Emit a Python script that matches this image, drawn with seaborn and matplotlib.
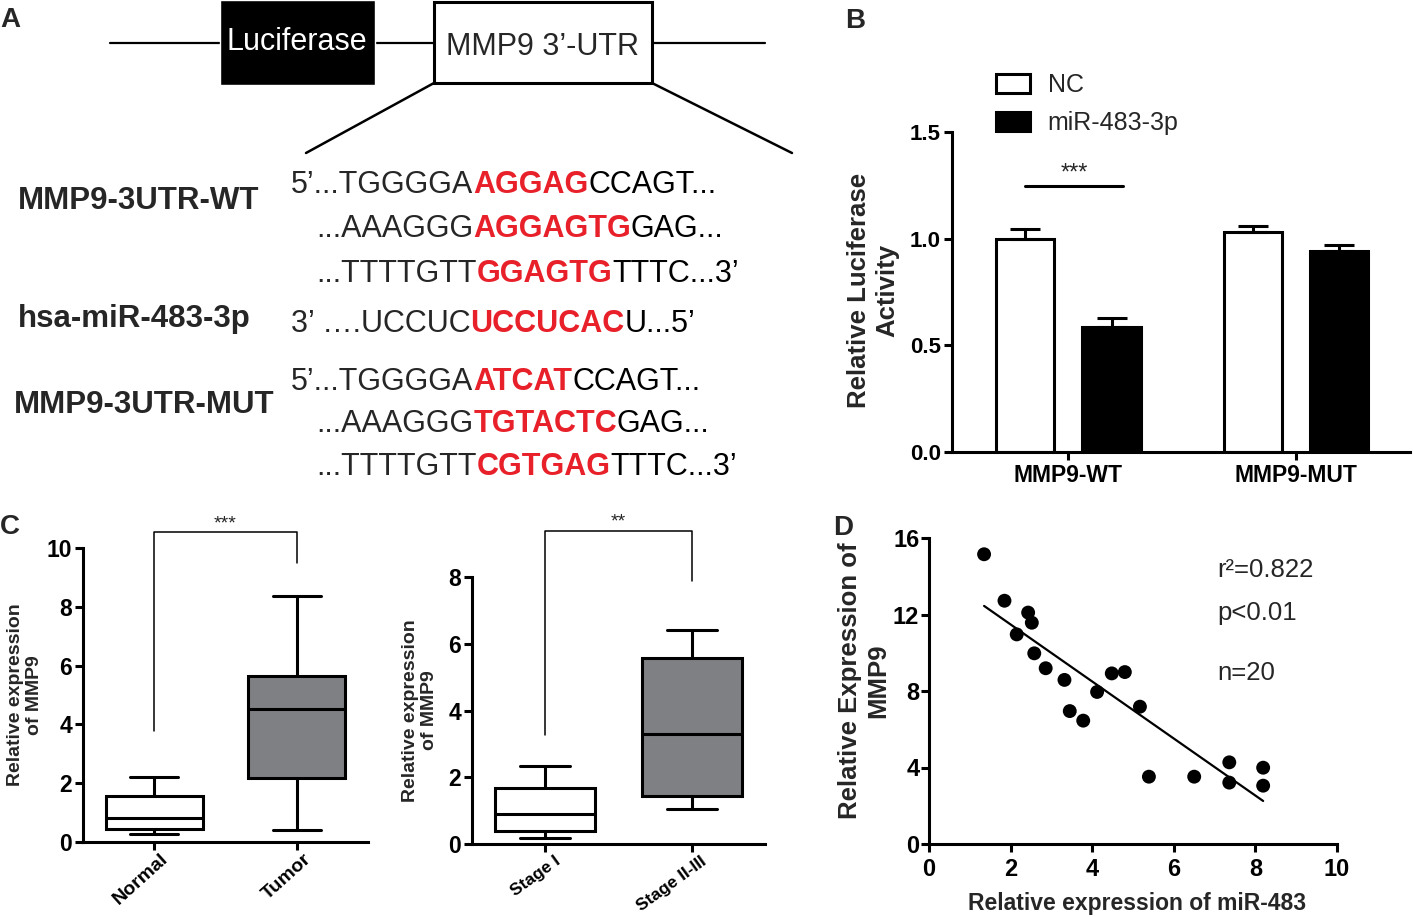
import numpy as np
import pandas as pd
import matplotlib
matplotlib.use('Agg')
import matplotlib.pyplot as plt
import matplotlib.transforms as mtrans
from matplotlib.patches import Rectangle, Patch
import seaborn as sns

# panel A: reporter sequences, each row = black / red seed / black
seq_names = ['MMP9-3UTR-WT', 'hsa-miR-483-3p', 'MMP9-3UTR-MUT']
seq_wt = [['5’...TGGGGA', 'AGGAG', 'CCAGT...'],
          ['...AAAGGG', 'AGGAGTG', 'GAG...'],
          ['...TTTTGTT', 'GGAGTG', 'TTTC...3’']]
seq_mir = [['3’ ….UCCUC', 'UCCUCAC', 'U...5’']]
seq_mut = [['5’...TGGGGA', 'ATCAT', 'CCAGT...'],
           ['...AAAGGG', 'TGTACTC', 'GAG...'],
           ['...TTTTGTT', 'CGTGAG', 'TTTC...3’']]

# panel B: luciferase activity
b_groups = ['MMP9-WT', 'MMP9-MUT']
b_treat = ['NC', 'miR-483-3p']
b_nc = [1.00, 1.03]
b_nc_sem = [0.045, 0.028]
b_mir = [0.586, 0.942]
b_mir_sem = [0.042, 0.028]
b_sig = 1.247

# panel C: box summaries (min, q1, median, q3, max)
c1_groups = ['Normal', 'Tumor']
c1_normal = [0.27, 0.43, 0.81, 1.56, 2.22]
c1_tumor = [0.41, 2.19, 4.51, 5.66, 8.38]
c1_bracket = [3.79, 10.53, 9.48]
c2_groups = ['Stage I', 'Stage II-III']
c2_stage1 = [0.17, 0.39, 0.89, 1.67, 2.35]
c2_stage23 = [1.05, 1.45, 3.31, 5.56, 6.41]
c2_bracket = [3.26, 9.38, 7.88]

# panel D: correlation
d_mir = [1.35, 1.85, 2.43, 2.52, 2.15, 2.58, 2.86, 3.32, 3.45, 3.78,
         4.12, 4.48, 4.80, 5.17, 5.39, 6.50, 7.36, 7.36, 8.19, 8.19]
d_mmp9 = [15.15, 12.72, 12.10, 11.57, 10.96, 9.97, 9.19, 8.58, 6.95, 6.45,
          7.95, 8.92, 8.99, 7.18, 3.52, 3.52, 4.27, 3.21, 3.99, 3.05]
d_stats = ['r²=0.822', 'p<0.01', 'n=20']

RED = '#e8202a'
LW = 2.2

sns.set_style('ticks')
plt.rcParams['font.family'] = ['Liberation Sans', 'DejaVu Sans']
plt.rcParams['font.weight'] = 'bold'
plt.rcParams['axes.labelweight'] = 'bold'

W, H = 1413, 917
fig = plt.figure(figsize=(W / 100, H / 100), dpi=100)


def add_ax(x0, y0, x1, y1):
    # pixel box (left, top, right, bottom) -> figure fraction
    return fig.add_axes([x0 / W, 1 - y1 / H, (x1 - x0) / W, (y1 - y0) / H])


def style(ax, size):
    sns.despine(ax=ax)
    for s in ['left', 'bottom']:
        ax.spines[s].set_linewidth(LW)
        ax.spines[s].set_color('black')
    ax.tick_params(width=LW, length=6, pad=2, labelsize=size, colors='black')
    ax.set_facecolor('none')


# ---------- overlay for panel A and letters
ax0 = fig.add_axes([0, 0, 1, 1])
ax0.set_xlim(0, W)
ax0.set_ylim(H, 0)
ax0.axis('off')

ax0.plot([110, 765], [43, 43], color='black', lw=1.6)
ax0.add_patch(Rectangle((220, 0), 155, 85, facecolor='black', zorder=2))
ax0.add_patch(Rectangle((434, 2), 218, 81, facecolor='white', edgecolor='black', lw=LW, zorder=2))
ax0.plot([434, 306], [83, 153], color='black', lw=1.8)
ax0.plot([652, 792], [83, 153], color='black', lw=1.8)
ax0.text(297, 50, 'Luciferase', color='white', ha='center', va='baseline',
         fontsize=22, fontweight='normal', zorder=3)
ax0.text(543, 55, 'MMP9 3’-UTR', ha='center', va='baseline',
         fontsize=22, fontweight='normal', zorder=3)


def seq_line(x, y, parts):
    t = ax0.text(x, y, parts[0], fontsize=22, fontweight='normal', va='baseline')
    for k, seg in enumerate(parts[1:]):
        red = k == 0
        t = ax0.annotate(seg, xy=(1, 0), xycoords=t, va='bottom', ha='left', fontsize=22,
                         fontweight='bold' if red else 'normal',
                         color=RED if red else 'black')


for (x, y), parts in zip([(291, 193), (316, 237), (316, 282)], seq_wt):
    seq_line(x, y, parts)
seq_line(291, 332, seq_mir[0])
for (x, y), parts in zip([(291, 390), (316, 432), (316, 475)], seq_mut):
    seq_line(x, y, parts)
for (x, y), name in zip([(18, 209), (18, 327), (14, 413)], seq_names):
    ax0.text(x, y, name, fontsize=22.5, va='baseline')

for (x, y), letter in zip([(0, 27), (845, 28), (0, 534), (833, 535)], 'ABCD'):
    ax0.text(x, y, letter, fontsize=20, va='baseline')

# ---------- panel B
df_b = pd.DataFrame({'group': b_groups * 2,
                     'treat': [b_treat[0]] * 2 + [b_treat[1]] * 2,
                     'value': b_nc + b_mir})
axB = add_ax(952, 132, 1410, 452)
sns.barplot(data=df_b, x='group', y='value', hue='treat', palette=['white', 'black'],
            saturation=1, edgecolor='black', linewidth=LW, width=0.76, gap=0.33,
            errorbar=None, legend=False, ax=axB)
for cont, sems in zip(axB.containers, [b_nc_sem, b_mir_sem]):
    for bar, e in zip(cont, sems):
        axB.errorbar(bar.get_x() + bar.get_width() / 2, bar.get_height(),
                     yerr=[[0], [e]], fmt='none', ecolor='black', elinewidth=LW,
                     capsize=11, capthick=LW, zorder=3)
axB.set_xlim(-0.51, 1.5)
axB.set_ylim(0, 1.5)
axB.set_yticks([0, 0.5, 1.0, 1.5])
axB.set_yticklabels(['0.0', '0.5', '1.0', '1.5'])
axB.set_xlabel('')
axB.set_ylabel('Relative Luciferase\nActivity', fontsize=18.5, va='center')
axB.yaxis.set_label_coords(-0.1725, 0.506)
style(axB, 16)
axB.tick_params(axis='x', labelsize=16.5, pad=3)
axB.plot([-0.19, 0.24], [b_sig, b_sig], color='black', lw=LW, clip_on=False)
axB.text(0.025, b_sig + 0.005, '***', ha='center', va='bottom', fontsize=17, fontweight='normal')
handles = [Patch(facecolor=c, edgecolor='black', linewidth=LW) for c in ['white', 'black']]
axB.legend(handles, b_treat, loc='upper left', bbox_to_anchor=(996 / W, 1 - 73 / H),
           bbox_transform=fig.transFigure, frameon=False,
           prop={'size': 18, 'weight': 'normal'}, handlelength=1.36, handleheight=0.8,
           handletextpad=0.7, labelspacing=0.56, borderpad=0, borderaxespad=0)


# ---------- panel C
def box_panel(rect, groups, stats, ymax, bracket, stars, label_x, rot, size, shift):
    ax = add_ax(*rect)
    df = pd.DataFrame({'group': np.repeat(groups, 5), 'value': np.concatenate(stats)})
    sns.boxplot(data=df, x='group', y='value', hue='group', palette=['white', '#7f8084'],
                saturation=1, whis=(0, 100), width=0.68, linewidth=LW, linecolor='black',
                showfliers=False, legend=False, ax=ax)
    ax.set_xlim(-0.5, 1.5)
    ax.set_ylim(0, ymax)
    ax.set_yticks(np.arange(0, ymax + 1, 2))
    ax.set_xticks([0, 1])
    ax.set_xticklabels(groups, rotation=rot, ha='right', va='top', rotation_mode='anchor')
    ax.set_xlabel('')
    ax.set_ylabel('Relative expression\nof MMP9', fontsize=14, va='center')
    ax.yaxis.set_label_coords(label_x, 0.5)
    style(ax, 16.5)
    ax.tick_params(axis='x', labelsize=size, pad=0, length=6)
    # nudge the rotated labels to the right of the tick marks
    off = mtrans.ScaledTranslation(shift[0] / 100, shift[1] / 100, fig.dpi_scale_trans)
    for lab in ax.get_xticklabels():
        lab.set_transform(lab.get_transform() + off)
    ax.spines['left'].set_bounds(0, ymax)
    ax.plot([0, 0, 1, 1], [bracket[0], bracket[1], bracket[1], bracket[2]],
            color='black', lw=1.1, clip_on=False)
    ax.text(0.5, bracket[1], stars, ha='center', va='bottom', fontsize=14, fontweight='normal')
    return ax


box_panel((83, 548, 368, 842), c1_groups, [c1_normal, c1_tumor], 10, c1_bracket, '***',
          -0.2035, 42, 14, (6, 0))
box_panel((472, 577, 765, 844), c2_groups, [c2_stage1, c2_stage23], 8, c2_bracket, '**',
          -0.177, 36, 12.5, (9, -1))

# ---------- panel D
axD = add_ax(929, 538, 1337, 844)
sns.regplot(x=d_mir, y=d_mmp9, ci=None, truncate=True,
            scatter_kws=dict(s=100, color='black', edgecolors='none', alpha=1),
            line_kws=dict(color='black', lw=1.6), ax=axD)
axD.set_xlim(0, 10)
axD.set_ylim(0, 16)
axD.set_xticks(range(0, 11, 2))
axD.set_yticks(range(0, 17, 4))
axD.set_xlabel('Relative expression of miR-483', fontsize=16.5, va='center')
axD.xaxis.set_label_coords(0.51, -0.193)
axD.set_ylabel('Relative Expression of\nMMP9', fontsize=18.5, va='center')
axD.yaxis.set_label_coords(-0.159, 0.535)
style(axD, 17)
axD.tick_params(axis='x', pad=4)
axD.tick_params(axis='y', pad=1)
for y, s in zip([13.96, 11.71, 8.58], d_stats):
    axD.text(7.06, y, s, fontsize=18.5, fontweight='normal', va='baseline')

fig.savefig('out.png', dpi=100)
